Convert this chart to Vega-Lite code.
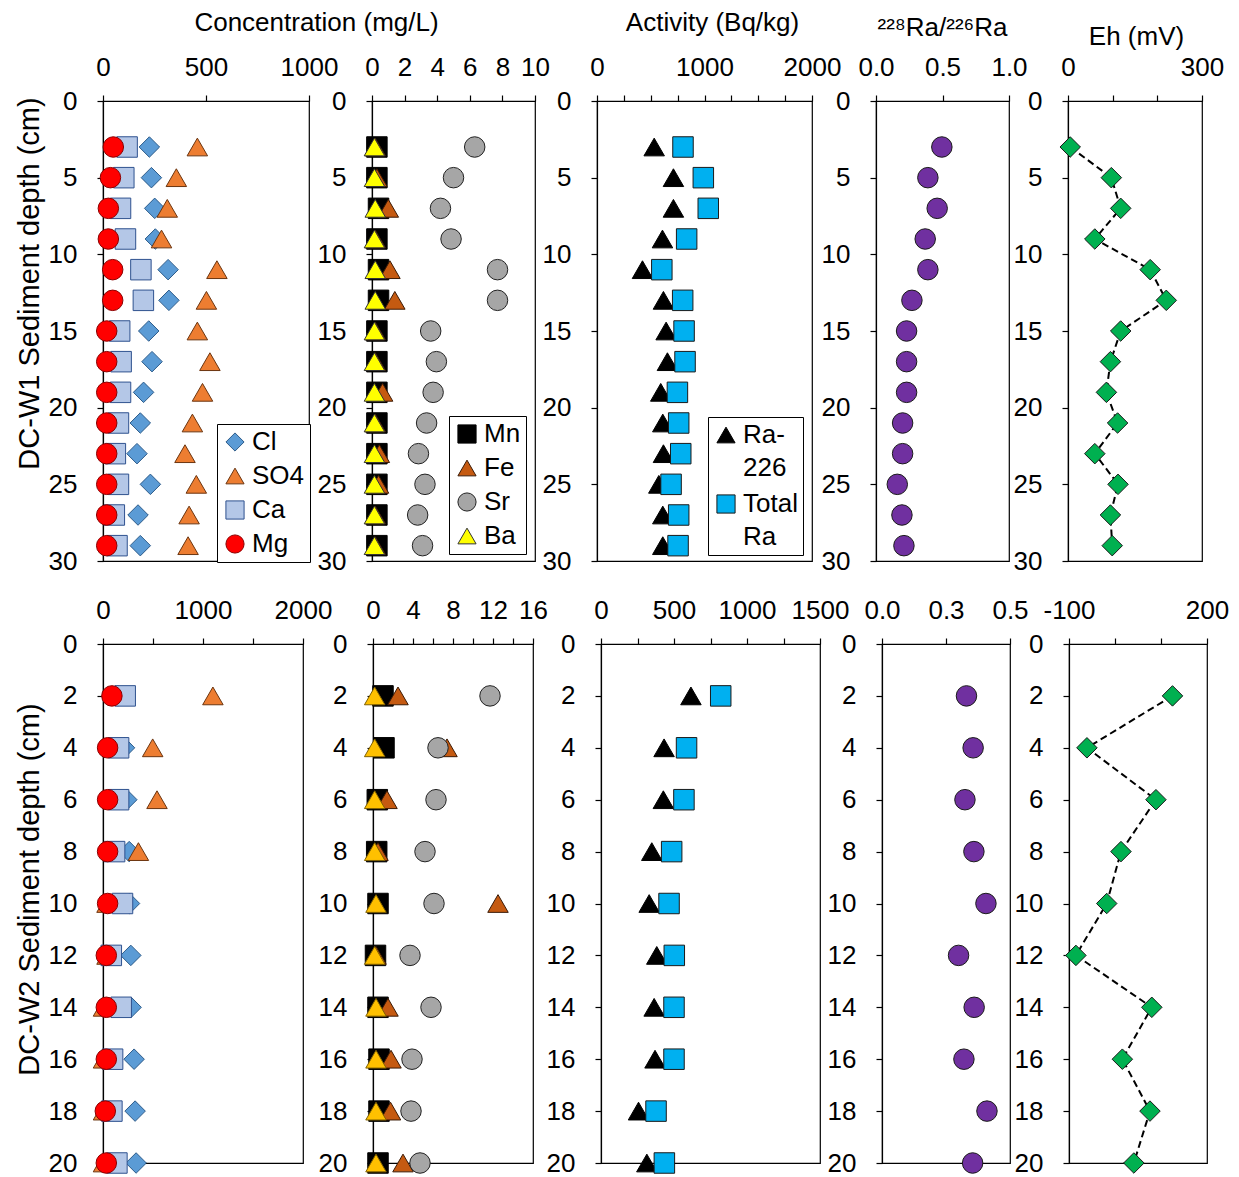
{
 "$schema": "https://vega.github.io/schema/vega-lite/v6.json",
 "background": "white",
 "padding": {"left": 14, "top": 8, "right": 5, "bottom": 5},
 "config": {
  "font": "Liberation Sans",
  "view": {"stroke": "#000", "strokeWidth": 1.2},
  "style": {"guide-label": {"lineHeight": 33}},
  "axis": {"labelFont": "Liberation Sans", "labelFontSize": 26, "labelColor": "#000", "titleFont": "Liberation Sans", "titleFontSize": 26, "titleFontWeight": "normal", "titleColor": "#000", "domainColor": "#000", "domainWidth": 1.2, "tickColor": "#000", "tickWidth": 1.2, "tickSize": 6, "grid": false, "labelFlush": false, "labelOverlap": false, "labelBound": false},
  "axisX": {"labelPadding": 15},
  "axisY": {"labelPadding": 20, "titlePadding": 4, "titleFontSize": 29},
  "legend": {"labelFont": "Liberation Sans", "labelFontSize": 26, "labelColor": "#000", "strokeColor": "#000", "fillColor": "white", "padding": 5, "rowPadding": 8, "symbolSize": 330, "symbolStrokeWidth": 1, "labelOffset": 4, "symbolOpacity": 1}
 },
 "datasets": {
  "w1major": [
   {"depth":3,"series":"Cl","value":225},{"depth":5,"series":"Cl","value":235},{"depth":7,"series":"Cl","value":251},{"depth":9,"series":"Cl","value":254},{"depth":11,"series":"Cl","value":316},{"depth":13,"series":"Cl","value":320},{"depth":15,"series":"Cl","value":222},{"depth":17,"series":"Cl","value":238},{"depth":19,"series":"Cl","value":197},{"depth":21,"series":"Cl","value":181},{"depth":23,"series":"Cl","value":165},{"depth":25,"series":"Cl","value":230},{"depth":27,"series":"Cl","value":170},{"depth":29,"series":"Cl","value":181},
   {"depth":3,"series":"SO4","value":458},{"depth":5,"series":"SO4","value":356},{"depth":7,"series":"SO4","value":312},{"depth":9,"series":"SO4","value":284},{"depth":11,"series":"SO4","value":553},{"depth":13,"series":"SO4","value":502},{"depth":15,"series":"SO4","value":458},{"depth":17,"series":"SO4","value":519},{"depth":19,"series":"SO4","value":483},{"depth":21,"series":"SO4","value":434},{"depth":23,"series":"SO4","value":398},{"depth":25,"series":"SO4","value":453},{"depth":27,"series":"SO4","value":418},{"depth":29,"series":"SO4","value":413},
   {"depth":3,"series":"Ca","value":117},{"depth":5,"series":"Ca","value":101},{"depth":7,"series":"Ca","value":85},{"depth":9,"series":"Ca","value":109},{"depth":11,"series":"Ca","value":184},{"depth":13,"series":"Ca","value":196},{"depth":15,"series":"Ca","value":81},{"depth":17,"series":"Ca","value":88},{"depth":19,"series":"Ca","value":85},{"depth":21,"series":"Ca","value":75},{"depth":23,"series":"Ca","value":60},{"depth":25,"series":"Ca","value":75},{"depth":27,"series":"Ca","value":55},{"depth":29,"series":"Ca","value":68},
   {"depth":3,"series":"Mg","value":50},{"depth":5,"series":"Mg","value":36},{"depth":7,"series":"Mg","value":26},{"depth":9,"series":"Mg","value":26},{"depth":11,"series":"Mg","value":47},{"depth":13,"series":"Mg","value":47},{"depth":15,"series":"Mg","value":18},{"depth":17,"series":"Mg","value":18},{"depth":19,"series":"Mg","value":18},{"depth":21,"series":"Mg","value":18},{"depth":23,"series":"Mg","value":18},{"depth":25,"series":"Mg","value":18},{"depth":27,"series":"Mg","value":18},{"depth":29,"series":"Mg","value":18}
  ],
  "w1trace": [
   {"depth":3,"series":"Mn","value":0.3},{"depth":5,"series":"Mn","value":0.3},{"depth":7,"series":"Mn","value":0.4},{"depth":9,"series":"Mn","value":0.3},{"depth":11,"series":"Mn","value":0.4},{"depth":13,"series":"Mn","value":0.4},{"depth":15,"series":"Mn","value":0.3},{"depth":17,"series":"Mn","value":0.3},{"depth":19,"series":"Mn","value":0.3},{"depth":21,"series":"Mn","value":0.3},{"depth":23,"series":"Mn","value":0.3},{"depth":25,"series":"Mn","value":0.3},{"depth":27,"series":"Mn","value":0.3},{"depth":29,"series":"Mn","value":0.3},
   {"depth":3,"series":"Fe","value":0.2},{"depth":5,"series":"Fe","value":0.3},{"depth":7,"series":"Fe","value":1.0},{"depth":9,"series":"Fe","value":0.2},{"depth":11,"series":"Fe","value":1.1},{"depth":13,"series":"Fe","value":1.4},{"depth":15,"series":"Fe","value":0.2},{"depth":17,"series":"Fe","value":0.2},{"depth":19,"series":"Fe","value":0.65},{"depth":21,"series":"Fe","value":0.2},{"depth":23,"series":"Fe","value":0.45},{"depth":25,"series":"Fe","value":0.4},{"depth":27,"series":"Fe","value":0.2},{"depth":29,"series":"Fe","value":0.2},
   {"depth":3,"series":"Sr","value":6.3},{"depth":5,"series":"Sr","value":5.0},{"depth":7,"series":"Sr","value":4.2},{"depth":9,"series":"Sr","value":4.85},{"depth":11,"series":"Sr","value":7.7},{"depth":13,"series":"Sr","value":7.7},{"depth":15,"series":"Sr","value":3.6},{"depth":17,"series":"Sr","value":3.95},{"depth":19,"series":"Sr","value":3.75},{"depth":21,"series":"Sr","value":3.35},{"depth":23,"series":"Sr","value":2.85},{"depth":25,"series":"Sr","value":3.25},{"depth":27,"series":"Sr","value":2.8},{"depth":29,"series":"Sr","value":3.1},
   {"depth":3,"series":"Ba","value":0.15},{"depth":5,"series":"Ba","value":0.15},{"depth":7,"series":"Ba","value":0.2},{"depth":9,"series":"Ba","value":0.15},{"depth":11,"series":"Ba","value":0.2},{"depth":13,"series":"Ba","value":0.2},{"depth":15,"series":"Ba","value":0.15},{"depth":17,"series":"Ba","value":0.15},{"depth":19,"series":"Ba","value":0.15},{"depth":21,"series":"Ba","value":0.15},{"depth":23,"series":"Ba","value":0.15},{"depth":25,"series":"Ba","value":0.15},{"depth":27,"series":"Ba","value":0.15},{"depth":29,"series":"Ba","value":0.15}
  ],
  "w1ra": [
   {"depth":3,"series":"Ra-226","value":532},{"depth":5,"series":"Ra-226","value":711},{"depth":7,"series":"Ra-226","value":711},{"depth":9,"series":"Ra-226","value":609},{"depth":11,"series":"Ra-226","value":423},{"depth":13,"series":"Ra-226","value":618},{"depth":15,"series":"Ra-226","value":643},{"depth":17,"series":"Ra-226","value":655},{"depth":19,"series":"Ra-226","value":593},{"depth":21,"series":"Ra-226","value":612},{"depth":23,"series":"Ra-226","value":618},{"depth":25,"series":"Ra-226","value":575},{"depth":27,"series":"Ra-226","value":612},{"depth":29,"series":"Ra-226","value":612},
   {"depth":3,"series":"Total Ra","value":800},{"depth":5,"series":"Total Ra","value":989},{"depth":7,"series":"Total Ra","value":1035},{"depth":9,"series":"Total Ra","value":834},{"depth":11,"series":"Total Ra","value":603},{"depth":13,"series":"Total Ra","value":797},{"depth":15,"series":"Total Ra","value":810},{"depth":17,"series":"Total Ra","value":819},{"depth":19,"series":"Total Ra","value":748},{"depth":21,"series":"Total Ra","value":760},{"depth":23,"series":"Total Ra","value":779},{"depth":25,"series":"Total Ra","value":689},{"depth":27,"series":"Total Ra","value":760},{"depth":29,"series":"Total Ra","value":754}
  ],
  "w1ratio": [
   {"depth":3,"value":0.495},{"depth":5,"value":0.39},{"depth":7,"value":0.46},{"depth":9,"value":0.37},{"depth":11,"value":0.39},{"depth":13,"value":0.27},{"depth":15,"value":0.23},{"depth":17,"value":0.23},{"depth":19,"value":0.23},{"depth":21,"value":0.2},{"depth":23,"value":0.2},{"depth":25,"value":0.16},{"depth":27,"value":0.195},{"depth":29,"value":0.21}
  ],
  "w1eh": [
   {"depth":3,"value":5},{"depth":5,"value":97},{"depth":7,"value":118},{"depth":9,"value":60},{"depth":11,"value":184},{"depth":13,"value":220},{"depth":15,"value":118},{"depth":17,"value":95},{"depth":19,"value":86},{"depth":21,"value":111},{"depth":23,"value":60},{"depth":25,"value":112},{"depth":27,"value":95},{"depth":29,"value":99}
  ],
  "w2major": [
   {"depth":2,"series":"Cl","value":150},{"depth":4,"series":"Cl","value":215},{"depth":6,"series":"Cl","value":238},{"depth":8,"series":"Cl","value":262},{"depth":10,"series":"Cl","value":265},{"depth":12,"series":"Cl","value":278},{"depth":14,"series":"Cl","value":281},{"depth":16,"series":"Cl","value":311},{"depth":18,"series":"Cl","value":321},{"depth":20,"series":"Cl","value":331},
   {"depth":2,"series":"SO4","value":1099},{"depth":4,"series":"SO4","value":497},{"depth":6,"series":"SO4","value":540},{"depth":8,"series":"SO4","value":354},{"depth":10,"series":"SO4","value":40},{"depth":12,"series":"SO4","value":40},{"depth":14,"series":"SO4","value":5},{"depth":16,"series":"SO4","value":5},{"depth":18,"series":"SO4","value":5},{"depth":20,"series":"SO4","value":5},
   {"depth":2,"series":"Ca","value":222},{"depth":4,"series":"Ca","value":156},{"depth":6,"series":"Ca","value":156},{"depth":8,"series":"Ca","value":116},{"depth":10,"series":"Ca","value":195},{"depth":12,"series":"Ca","value":83},{"depth":14,"series":"Ca","value":182},{"depth":16,"series":"Ca","value":96},{"depth":18,"series":"Ca","value":89},{"depth":20,"series":"Ca","value":139},
   {"depth":2,"series":"Mg","value":89},{"depth":4,"series":"Mg","value":46},{"depth":6,"series":"Mg","value":46},{"depth":8,"series":"Mg","value":46},{"depth":10,"series":"Mg","value":46},{"depth":12,"series":"Mg","value":33},{"depth":14,"series":"Mg","value":33},{"depth":16,"series":"Mg","value":33},{"depth":18,"series":"Mg","value":23},{"depth":20,"series":"Mg","value":33}
  ],
  "w2trace": [
   {"depth":2,"series":"Mn","value":1.0},{"depth":4,"series":"Mn","value":1.1},{"depth":6,"series":"Mn","value":0.43},{"depth":8,"series":"Mn","value":0.37},{"depth":10,"series":"Mn","value":0.5},{"depth":12,"series":"Mn","value":0.25},{"depth":14,"series":"Mn","value":0.5},{"depth":16,"series":"Mn","value":0.6},{"depth":18,"series":"Mn","value":0.6},{"depth":20,"series":"Mn","value":0.5},
   {"depth":2,"series":"Fe","value":2.5},{"depth":4,"series":"Fe","value":7.4},{"depth":6,"series":"Fe","value":1.4},{"depth":8,"series":"Fe","value":0.5},{"depth":10,"series":"Fe","value":12.5},{"depth":12,"series":"Fe","value":0.3},{"depth":14,"series":"Fe","value":1.5},{"depth":16,"series":"Fe","value":1.8},{"depth":18,"series":"Fe","value":1.75},{"depth":20,"series":"Fe","value":3.0},
   {"depth":2,"series":"Sr","value":11.7},{"depth":4,"series":"Sr","value":6.5},{"depth":6,"series":"Sr","value":6.3},{"depth":8,"series":"Sr","value":5.2},{"depth":10,"series":"Sr","value":6.1},{"depth":12,"series":"Sr","value":3.7},{"depth":14,"series":"Sr","value":5.8},{"depth":16,"series":"Sr","value":3.9},{"depth":18,"series":"Sr","value":3.8},{"depth":20,"series":"Sr","value":4.7},
   {"depth":2,"series":"Ba","value":0.17},{"depth":4,"series":"Ba","value":0.17},{"depth":6,"series":"Ba","value":0.17},{"depth":8,"series":"Ba","value":0.17},{"depth":10,"series":"Ba","value":0.3},{"depth":12,"series":"Ba","value":0.17},{"depth":14,"series":"Ba","value":0.3},{"depth":16,"series":"Ba","value":0.3},{"depth":18,"series":"Ba","value":0.3},{"depth":20,"series":"Ba","value":0.3}
  ],
  "w2ra": [
   {"depth":2,"series":"Ra-226","value":616},{"depth":4,"series":"Ra-226","value":432},{"depth":6,"series":"Ra-226","value":427},{"depth":8,"series":"Ra-226","value":348},{"depth":10,"series":"Ra-226","value":330},{"depth":12,"series":"Ra-226","value":382},{"depth":14,"series":"Ra-226","value":364},{"depth":16,"series":"Ra-226","value":370},{"depth":18,"series":"Ra-226","value":257},{"depth":20,"series":"Ra-226","value":314},
   {"depth":2,"series":"Total Ra","value":820},{"depth":4,"series":"Total Ra","value":586},{"depth":6,"series":"Total Ra","value":568},{"depth":8,"series":"Total Ra","value":484},{"depth":10,"series":"Total Ra","value":466},{"depth":12,"series":"Total Ra","value":502},{"depth":14,"series":"Total Ra","value":500},{"depth":16,"series":"Total Ra","value":500},{"depth":18,"series":"Total Ra","value":377},{"depth":20,"series":"Total Ra","value":434}
  ],
  "w2ratio": [
   {"depth":2,"value":0.33},{"depth":4,"value":0.356},{"depth":6,"value":0.324},{"depth":8,"value":0.359},{"depth":10,"value":0.406},{"depth":12,"value":0.299},{"depth":14,"value":0.36},{"depth":16,"value":0.32},{"depth":18,"value":0.41},{"depth":20,"value":0.354}
  ],
  "w2eh": [
   {"depth":2,"value":125},{"depth":4,"value":-61},{"depth":6,"value":89},{"depth":8,"value":13},{"depth":10,"value":-18},{"depth":12,"value":-85},{"depth":14,"value":80},{"depth":16,"value":16},{"depth":18,"value":76},{"depth":20,"value":41}
  ]
 },
 "bounds": "full",
 "spacing": 21,
 "resolve": {"scale": {"fill": "independent", "stroke": "independent", "shape": "independent"}},
 "vconcat": [
  {
   "bounds": "flush", "spacing": 63,
   "resolve": {"scale": {"fill": "independent", "stroke": "independent", "shape": "independent"}},
   "hconcat": [
    {
     "width": 206, "height": 460,
     "data": {"name": "w1major"},
     "mark": {"type": "point", "filled": true, "size": 420, "strokeWidth": 1, "opacity": 1},
     "encoding": {
      "x": {"field": "value", "type": "quantitative", "scale": {"domain": [0, 1000], "nice": false, "zero": false}, "axis": {"orient": "top", "values": [0, 500, 1000], "format": "d", "title": "Concentration (mg/L)", "titleX": 213, "titleY": -79, "titleBaseline": "middle", "titleAnchor": "middle"}},
      "y": {"field": "depth", "type": "quantitative", "scale": {"domain": [0, 30], "reverse": true, "nice": false, "zero": false}, "axis": {"values": [0, 5, 10, 15, 20, 25, 30], "format": "d", "title": "DC-W1 Sediment depth (cm)", "titleY": 182, "titleAnchor": "middle"}},
      "shape": {"field": "series", "type": "nominal", "scale": {"domain": ["Cl", "SO4", "Ca", "Mg"], "range": ["diamond", "triangle-up", "square", "circle"]}, "legend": {"orient": "none", "legendX": 114, "legendY": 323, "title": null}},
      "fill": {"field": "series", "type": "nominal", "scale": {"domain": ["Cl", "SO4", "Ca", "Mg"], "range": ["#5B9BD5", "#ED7D31", "#B4C7E7", "#FF0000"]}, "legend": {"orient": "none", "legendX": 114, "legendY": 323, "title": null}},
      "stroke": {"field": "series", "type": "nominal", "scale": {"domain": ["Cl", "SO4", "Ca", "Mg"], "range": ["#2E5C8A", "#6B3510", "#2F528F", "#8B0000"]}, "legend": {"orient": "none", "legendX": 114, "legendY": 323, "title": null}}
     }
    },
    {
     "bounds": "flush", "spacing": 62,
     "resolve": {"scale": {"fill": "independent", "stroke": "independent", "shape": "independent"}},
     "hconcat": [
      {
       "width": 163, "height": 460,
       "data": {"name": "w1trace"},
       "mark": {"type": "point", "filled": true, "size": 420, "strokeWidth": 1, "opacity": 1},
       "encoding": {
        "x": {"field": "value", "type": "quantitative", "scale": {"domain": [0, 10], "nice": false, "zero": false}, "axis": {"orient": "top", "values": [0, 2, 4, 6, 8, 10], "format": "d", "title": null}},
        "y": {"field": "depth", "type": "quantitative", "scale": {"domain": [0, 30], "reverse": true, "nice": false, "zero": false}, "axis": {"values": [0, 5, 10, 15, 20, 25, 30], "format": "d", "title": null}},
        "shape": {"field": "series", "type": "nominal", "scale": {"domain": ["Mn", "Fe", "Sr", "Ba"], "range": ["square", "triangle-up", "circle", "triangle-up"]}, "legend": {"orient": "none", "legendX": 77, "legendY": 315, "title": null}},
        "fill": {"field": "series", "type": "nominal", "scale": {"domain": ["Mn", "Fe", "Sr", "Ba"], "range": ["#000000", "#C55A11", "#A6A6A6", "#FFFF00"]}, "legend": {"orient": "none", "legendX": 77, "legendY": 315, "title": null}},
        "stroke": {"field": "series", "type": "nominal", "scale": {"domain": ["Mn", "Fe", "Sr", "Ba"], "range": ["#000000", "#3B1A05", "#222222", "#333333"]}, "legend": {"orient": "none", "legendX": 77, "legendY": 315, "title": null}}
       }
      },
      {
       "bounds": "flush", "spacing": 64,
       "resolve": {"scale": {"fill": "independent", "stroke": "independent", "shape": "independent"}},
       "hconcat": [
        {
         "width": 215, "height": 460,
         "data": {"name": "w1ra"},
         "mark": {"type": "point", "filled": true, "size": 420, "strokeWidth": 1, "opacity": 1},
         "encoding": {
          "x": {"field": "value", "type": "quantitative", "scale": {"domain": [0, 2000], "nice": false, "zero": false}, "axis": {"orient": "top", "values": [0, 250, 500, 750, 1000, 1250, 1500, 1750, 2000], "labelExpr": "datum.value % 1000 == 0 ? format(datum.value, 'd') : ''", "title": "Activity (Bq/kg)", "titleX": 115, "titleY": -79, "titleBaseline": "middle"}},
          "y": {"field": "depth", "type": "quantitative", "scale": {"domain": [0, 30], "reverse": true, "nice": false, "zero": false}, "axis": {"values": [0, 5, 10, 15, 20, 25, 30], "format": "d", "title": null}},
          "shape": {"field": "series", "type": "nominal", "scale": {"domain": ["Ra-226", "Total Ra"], "range": ["triangle-up", "square"]}, "legend": {"orient": "none", "legendX": 111, "legendY": 316, "title": null, "rowPadding": 10, "labelExpr": "datum.label == 'Ra-226' ? ['Ra-', '226'] : ['Total', 'Ra']"}},
          "fill": {"field": "series", "type": "nominal", "scale": {"domain": ["Ra-226", "Total Ra"], "range": ["#000000", "#00B0F0"]}, "legend": {"orient": "none", "legendX": 111, "legendY": 316, "title": null, "rowPadding": 10, "labelExpr": "datum.label == 'Ra-226' ? ['Ra-', '226'] : ['Total', 'Ra']"}},
          "stroke": {"field": "series", "type": "nominal", "scale": {"domain": ["Ra-226", "Total Ra"], "range": ["#000000", "#1A1A1A"]}, "legend": {"orient": "none", "legendX": 111, "legendY": 316, "title": null, "rowPadding": 10, "labelExpr": "datum.label == 'Ra-226' ? ['Ra-', '226'] : ['Total', 'Ra']"}}
         }
        },
        {
         "bounds": "flush", "spacing": 59,
         "hconcat": [
          {
           "width": 133, "height": 460,
           "data": {"name": "w1ratio"},
           "mark": {"type": "point", "filled": true, "shape": "circle", "size": 420, "fill": "#7030A0", "stroke": "#1A1A1A", "strokeWidth": 1, "opacity": 1},
           "encoding": {
            "x": {"field": "value", "type": "quantitative", "scale": {"domain": [0, 1], "nice": false, "zero": false}, "axis": {"orient": "top", "values": [0, 0.5, 1], "format": ".1f", "title": "²²⁸Ra/²²⁶Ra", "titleX": 66, "titleY": -74, "titleBaseline": "middle"}},
            "y": {"field": "depth", "type": "quantitative", "scale": {"domain": [0, 30], "reverse": true, "nice": false, "zero": false}, "axis": {"values": [0, 5, 10, 15, 20, 25, 30], "format": "d", "title": null}}
           }
          },
          {
           "width": 134, "height": 460,
           "data": {"name": "w1eh"},
           "layer": [
            {
             "mark": {"type": "line", "color": "#000", "strokeWidth": 2, "strokeDash": [7, 4]},
             "encoding": {
              "x": {"field": "value", "type": "quantitative", "scale": {"domain": [0, 300], "nice": false, "zero": false}, "axis": {"orient": "top", "values": [0, 50, 100, 150, 200, 250, 300], "labelExpr": "datum.value % 150 == 0 ? format(datum.value, 'd') : ''", "title": "Eh (mV)", "titleX": 68, "titleY": -65, "titleBaseline": "middle"}},
              "y": {"field": "depth", "type": "quantitative", "scale": {"domain": [0, 30], "reverse": true, "nice": false, "zero": false}, "axis": {"values": [0, 5, 10, 15, 20, 25, 30], "format": "d", "title": null}},
              "order": {"field": "depth", "type": "quantitative"}
             }
            },
            {
             "mark": {"type": "point", "filled": true, "shape": "diamond", "size": 420, "fill": "#00B050", "stroke": "#1A1A1A", "strokeWidth": 1, "opacity": 1},
             "encoding": {
              "x": {"field": "value", "type": "quantitative"},
              "y": {"field": "depth", "type": "quantitative"}
             }
            }
           ]
          }
         ]
        }
       ]
      }
     ]
    }
   ]
  },
  {
   "bounds": "flush", "spacing": 70,
   "resolve": {"scale": {"fill": "independent", "stroke": "independent", "shape": "independent"}},
   "hconcat": [
    {
     "width": 200, "height": 519,
     "data": {"name": "w2major"},
     "mark": {"type": "point", "filled": true, "size": 420, "strokeWidth": 1, "opacity": 1},
     "encoding": {
      "x": {"field": "value", "type": "quantitative", "scale": {"domain": [0, 2000], "nice": false, "zero": false}, "axis": {"orient": "top", "values": [0, 500, 1000, 1500, 2000], "labelExpr": "datum.value % 1000 == 0 ? format(datum.value, 'd') : ''", "title": null}},
      "y": {"field": "depth", "type": "quantitative", "scale": {"domain": [0, 20], "reverse": true, "nice": false, "zero": false}, "axis": {"values": [0, 2, 4, 6, 8, 10, 12, 14, 16, 18, 20], "format": "d", "title": "DC-W2 Sediment depth (cm)", "titleY": 245}},
      "shape": {"field": "series", "type": "nominal", "scale": {"domain": ["Cl", "SO4", "Ca", "Mg"], "range": ["diamond", "triangle-up", "square", "circle"]}, "legend": null},
      "fill": {"field": "series", "type": "nominal", "scale": {"domain": ["Cl", "SO4", "Ca", "Mg"], "range": ["#5B9BD5", "#ED7D31", "#B4C7E7", "#FF0000"]}, "legend": null},
      "stroke": {"field": "series", "type": "nominal", "scale": {"domain": ["Cl", "SO4", "Ca", "Mg"], "range": ["#2E5C8A", "#6B3510", "#2F528F", "#8B0000"]}, "legend": null}
     }
    },
    {
     "bounds": "flush", "spacing": 68,
     "resolve": {"scale": {"fill": "independent", "stroke": "independent", "shape": "independent"}},
     "hconcat": [
      {
       "width": 160, "height": 519,
       "data": {"name": "w2trace"},
       "mark": {"type": "point", "filled": true, "size": 420, "strokeWidth": 1, "opacity": 1},
       "encoding": {
        "x": {"field": "value", "type": "quantitative", "scale": {"domain": [0, 16], "nice": false, "zero": false}, "axis": {"orient": "top", "values": [0, 2, 4, 6, 8, 10, 12, 14, 16], "labelExpr": "datum.value % 4 == 0 ? format(datum.value, 'd') : ''", "title": null}},
        "y": {"field": "depth", "type": "quantitative", "scale": {"domain": [0, 20], "reverse": true, "nice": false, "zero": false}, "axis": {"values": [0, 2, 4, 6, 8, 10, 12, 14, 16, 18, 20], "format": "d", "title": null}},
        "shape": {"field": "series", "type": "nominal", "scale": {"domain": ["Mn", "Fe", "Sr", "Ba"], "range": ["square", "triangle-up", "circle", "triangle-up"]}, "legend": null},
        "fill": {"field": "series", "type": "nominal", "scale": {"domain": ["Mn", "Fe", "Sr", "Ba"], "range": ["#000000", "#C55A11", "#A6A6A6", "#FFC000"]}, "legend": null},
        "stroke": {"field": "series", "type": "nominal", "scale": {"domain": ["Mn", "Fe", "Sr", "Ba"], "range": ["#000000", "#3B1A05", "#222222", "#7F6000"]}, "legend": null}
       }
      },
      {
       "bounds": "flush", "spacing": 62,
       "resolve": {"scale": {"fill": "independent", "stroke": "independent", "shape": "independent"}},
       "hconcat": [
        {
         "width": 219, "height": 519,
         "data": {"name": "w2ra"},
         "mark": {"type": "point", "filled": true, "size": 420, "strokeWidth": 1, "opacity": 1},
         "encoding": {
          "x": {"field": "value", "type": "quantitative", "scale": {"domain": [0, 1500], "nice": false, "zero": false}, "axis": {"orient": "top", "values": [0, 250, 500, 750, 1000, 1250, 1500], "labelExpr": "datum.value % 500 == 0 ? format(datum.value, 'd') : ''", "title": null}},
          "y": {"field": "depth", "type": "quantitative", "scale": {"domain": [0, 20], "reverse": true, "nice": false, "zero": false}, "axis": {"values": [0, 2, 4, 6, 8, 10, 12, 14, 16, 18, 20], "format": "d", "title": null}},
          "shape": {"field": "series", "type": "nominal", "scale": {"domain": ["Ra-226", "Total Ra"], "range": ["triangle-up", "square"]}, "legend": null},
          "fill": {"field": "series", "type": "nominal", "scale": {"domain": ["Ra-226", "Total Ra"], "range": ["#000000", "#00B0F0"]}, "legend": null},
          "stroke": {"field": "series", "type": "nominal", "scale": {"domain": ["Ra-226", "Total Ra"], "range": ["#000000", "#1A1A1A"]}, "legend": null}
         }
        },
        {
         "bounds": "flush", "spacing": 59,
         "hconcat": [
          {
           "width": 128, "height": 519,
           "data": {"name": "w2ratio"},
           "mark": {"type": "point", "filled": true, "shape": "circle", "size": 420, "fill": "#7030A0", "stroke": "#1A1A1A", "strokeWidth": 1, "opacity": 1},
           "encoding": {
            "x": {"field": "value", "type": "quantitative", "scale": {"domain": [0, 0.5], "nice": false, "zero": false}, "axis": {"orient": "top", "values": [0, 0.25, 0.5], "labelExpr": "datum.value == 0 ? '0.0' : datum.value == 0.25 ? '0.3' : '0.5'", "title": null}},
            "y": {"field": "depth", "type": "quantitative", "scale": {"domain": [0, 20], "reverse": true, "nice": false, "zero": false}, "axis": {"values": [0, 2, 4, 6, 8, 10, 12, 14, 16, 18, 20], "format": "d", "title": null}}
           }
          },
          {
           "width": 138, "height": 519,
           "data": {"name": "w2eh"},
           "layer": [
            {
             "mark": {"type": "line", "color": "#000", "strokeWidth": 2, "strokeDash": [7, 4]},
             "encoding": {
              "x": {"field": "value", "type": "quantitative", "scale": {"domain": [-100, 200], "nice": false, "zero": false}, "axis": {"orient": "top", "values": [-100, -50, 0, 50, 100, 150, 200], "labelExpr": "datum.value == -100 ? '-100' : datum.value == 50 ? '50' : datum.value == 200 ? '200' : ''", "title": null}},
              "y": {"field": "depth", "type": "quantitative", "scale": {"domain": [0, 20], "reverse": true, "nice": false, "zero": false}, "axis": {"values": [0, 2, 4, 6, 8, 10, 12, 14, 16, 18, 20], "format": "d", "title": null}},
              "order": {"field": "depth", "type": "quantitative"}
             }
            },
            {
             "mark": {"type": "point", "filled": true, "shape": "diamond", "size": 420, "fill": "#00B050", "stroke": "#1A1A1A", "strokeWidth": 1, "opacity": 1},
             "encoding": {
              "x": {"field": "value", "type": "quantitative"},
              "y": {"field": "depth", "type": "quantitative"}
             }
            }
           ]
          }
         ]
        }
       ]
      }
     ]
    }
   ]
  }
 ]
}
